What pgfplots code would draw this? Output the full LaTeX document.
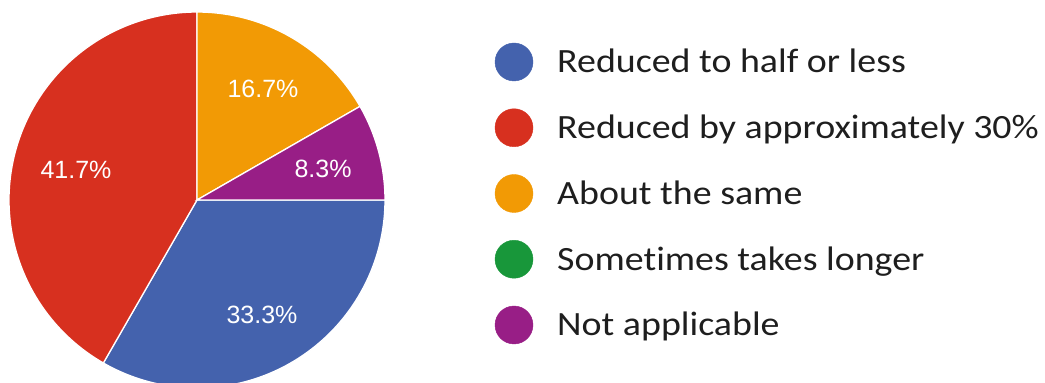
\documentclass[border=0pt]{standalone}
\usepackage{pgfplots}
\pgfplotsset{compat=1.18}
\usepackage{fontspec}
\setmainfont{Liberation Sans}
\newfontfamily\legendfont[Ligatures=NoCommon]{Carlito}
\newfontfamily\labelfont{Liberation Sans}
\definecolor{pblue}{HTML}{4462AD}
\definecolor{pred}{HTML}{D7301F}
\definecolor{porange}{HTML}{F29A05}
\definecolor{pgreen}{HTML}{18973A}
\definecolor{ppurple}{HTML}{981E86}
\definecolor{ltext}{HTML}{1E1E1E}
% slice values (percent)
\def\vA{33.3}\def\vB{41.7}\def\vC{16.7}\def\vD{0}\def\vE{8.3}
\pgfmathsetmacro\aA{0}
\pgfmathsetmacro\aB{\aA-3.6*\vA}
\pgfmathsetmacro\aC{\aB-3.6*\vB}
\pgfmathsetmacro\aD{\aC-3.6*\vC}
\pgfmathsetmacro\aE{\aD-3.6*\vD}
\pgfmathsetmacro\aF{\aE-3.6*\vE}
\newcommand\legtext[1]{\scalebox{1.115}[1]{#1}}
\begin{document}
\begin{tikzpicture}
\path[use as bounding box] (0,0) rectangle (1045pt,383pt);
\begin{axis}[
  at={(0,0)}, anchor=south west,
  width=1045pt, height=383pt, scale only axis,
  xmin=0, xmax=1045, ymin=0, ymax=383,
  hide axis, clip=true,
]
\addplot[fill=pblue, draw=white, line width=1.3pt, domain=\aB:\aA, samples=90, forget plot]
  ({197+188*cos(x)},{183+188*sin(x)}) -- (197,183) -- cycle;
\addplot[fill=pred, draw=white, line width=1.3pt, domain=\aC:\aB, samples=110, forget plot]
  ({197+188*cos(x)},{183+188*sin(x)}) -- (197,183) -- cycle;
\addplot[fill=porange, draw=white, line width=1.3pt, domain=\aD:\aC, samples=50, forget plot]
  ({197+188*cos(x)},{183+188*sin(x)}) -- (197,183) -- cycle;
\addplot[fill=ppurple, draw=white, line width=1.3pt, domain=\aF:\aE, samples=30, forget plot]
  ({197+188*cos(x)},{183+188*sin(x)}) -- (197,183) -- cycle;

\begin{scope}[every node/.style={text=white, font=\labelfont\fontsize{25}{29}\selectfont}]
\node at (axis cs:263,294) {16.7\%};
\node at (axis cs:76,213) {41.7\%};
\node at (axis cs:323,214) {8.3\%};
\node at (axis cs:262,68) {33.3\%};
\end{scope}

% legend
\addplot[only marks, mark=*, mark size=19pt, color=pblue, forget plot] coordinates {(514,321)};
\addplot[only marks, mark=*, mark size=19pt, color=pred, forget plot] coordinates {(514,255.25)};
\addplot[only marks, mark=*, mark size=19pt, color=porange, forget plot] coordinates {(514,189.5)};
\addplot[only marks, mark=*, mark size=19pt, color=pgreen, forget plot] coordinates {(514,123.75)};
\addplot[only marks, mark=*, mark size=19pt, color=ppurple, forget plot] coordinates {(514,58)};
\begin{scope}[every node/.style={anchor=base west, inner sep=0pt, text=ltext, font=\legendfont\fontsize{34}{40}\selectfont}]
\node at (axis cs:557,310) {\legtext{Reduced to half or less}};
\node at (axis cs:557,244.25) {\legtext{Reduced by approximately 30\%}};
\node at (axis cs:557,178.5) {\legtext{About the same}};
\node at (axis cs:557,112.75) {\legtext{Sometimes takes longer}};
\node at (axis cs:557,47) {\legtext{Not applicable}};
\end{scope}
\end{axis}
\end{tikzpicture}
\end{document}
